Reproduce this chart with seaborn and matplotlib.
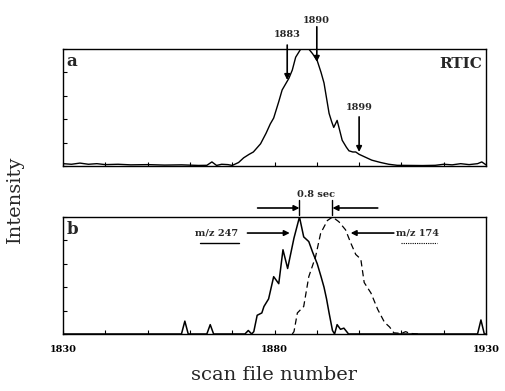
import numpy as np
import pandas as pd
import matplotlib
matplotlib.use("Agg")
import matplotlib.pyplot as plt
import seaborn as sns

# ---------------- data ----------------
rtic_scan = [1830, 1832, 1834, 1836, 1838, 1840, 1843, 1846, 1850, 1854, 1858, 1862, 1864,
             1865.2, 1866.3, 1867.5, 1869, 1870, 1871.5, 1872.7, 1874, 1875, 1876.7, 1878,
             1879, 1879.8, 1881, 1881.8, 1883.4, 1884.2, 1885, 1886.2, 1887, 1888.1, 1889,
             1890.1, 1891, 1891.7, 1892.3, 1892.9, 1893.5, 1894, 1894.8, 1895.3, 1896, 1897,
             1897.6, 1898.5, 1899.2, 1900, 1901.2, 1903, 1905.1, 1907, 1909, 1912, 1915, 1918,
             1920, 1922, 1924, 1926, 1928, 1929, 1930]
rtic_int = [0.02, 0.015, 0.025, 0.015, 0.02, 0.012, 0.015, 0.01, 0.012, 0.008, 0.01, 0.005, 0.006,
            0.035, 0.005, 0.015, 0.012, 0.005, 0.03, 0.07, 0.1, 0.12, 0.19, 0.28,
            0.36, 0.41, 0.55, 0.65, 0.75, 0.82, 0.93, 1.0, 1.0, 1.0, 0.96,
            0.9, 0.8, 0.71, 0.58, 0.45, 0.38, 0.33, 0.39, 0.32, 0.22, 0.16,
            0.13, 0.12, 0.12, 0.1, 0.08, 0.05, 0.03, 0.015, 0.006, 0.005, 0.004, 0.006,
            0.015, 0.01, 0.02, 0.012, 0.02, 0.035, 0.01]

mz247_scan = [1830, 1858, 1858.8, 1859.6, 1864, 1864.8, 1865.6, 1873, 1873.8, 1874.6, 1875.1,
              1875.9, 1877.0, 1877.5, 1878.6, 1879.8, 1881, 1882, 1883.1, 1884.6, 1885.9,
              1886.9, 1888.1, 1889, 1890.1, 1891, 1891.7, 1892.3, 1892.9, 1893.7, 1894.2,
              1894.8, 1895.6, 1896.4, 1897.5, 1928, 1928.8, 1929.6, 1930]
mz247_int = [0, 0, 0.11, 0, 0, 0.08, 0, 0, 0.03, 0, 0.02,
             0.16, 0.18, 0.235, 0.3, 0.49, 0.43, 0.72, 0.56, 0.82, 1.0,
             0.83, 0.79, 0.7, 0.6, 0.49, 0.4, 0.3, 0.18, 0.03, 0,
             0.08, 0.04, 0.05, 0, 0, 0.12, 0, 0]

mz174_scan = [1884.2, 1884.6, 1885.4, 1886.9, 1888.1, 1889.7, 1890.9, 1892.5, 1893.7, 1895.2,
              1896.8, 1898, 1899.2, 1900.4, 1901.2, 1902.8, 1904.4, 1906, 1907.2, 1908.2,
              1910, 1911, 1912, 1914]
mz174_int = [0, 0.02, 0.18, 0.235, 0.49, 0.66, 0.86, 0.97, 1.0, 0.96,
             0.89, 0.78, 0.68, 0.64, 0.44, 0.35, 0.21, 0.1, 0.06, 0.01,
             0.005, 0.02, 0.005, 0]

marked_scans = [1883, 1890, 1899]
mz247_label = "m/z 247"
mz174_label = "m/z 174"
shift_label = "0.8 sec"
x_labels = [1830, 1880, 1930]

# ---------------- style ----------------
sns.set_style("ticks")
plt.rcParams['font.family'] = ['DejaVu Serif']

fig = plt.figure(figsize=(5.05, 3.91), dpi=100)
ax_a = fig.add_axes([0.1248, 0.5754, 0.8376, 0.2992])
ax_b = fig.add_axes([0.1248, 0.1458, 0.8376, 0.2992])

df_a = pd.DataFrame({"scan": rtic_scan, "I": rtic_int})
df_247 = pd.DataFrame({"scan": mz247_scan, "I": mz247_int})
df_174 = pd.DataFrame({"scan": mz174_scan, "I": mz174_int})

sns.lineplot(data=df_a, x="scan", y="I", ax=ax_a, color="black", lw=1.0,
             sort=False, estimator=None)
sns.lineplot(data=df_247, x="scan", y="I", ax=ax_b, color="black", lw=1.1,
             sort=False, estimator=None)
sns.lineplot(data=df_174, x="scan", y="I", ax=ax_b, color="black", lw=0.9,
             linestyle=(0, (5, 3)), sort=False, estimator=None)

for ax in (ax_a, ax_b):
    ax.set_xlim(1830, 1930)
    ax.set_ylim(0, 1.0)
    ax.set_xlabel("")
    ax.set_ylabel("")
    ax.set_yticks(np.arange(0, 1.01, 0.2))
    ax.set_yticklabels([])
    ax.set_xticks(x_labels)
    ax.set_xticks(np.arange(1830, 1931, 10), minor=True)
    ax.tick_params(axis="both", which="both", direction="in", length=3, width=0.8,
                   colors="black")
    for s in ax.spines.values():
        s.set_visible(True)
        s.set_linewidth(1.0)
        s.set_color("black")

ax_a.set_xticklabels([])
ax_b.set_xticklabels([str(v) for v in x_labels], fontsize=7, fontweight="bold")
ax_b.tick_params(axis="x", pad=8)

# panel letters
ax_a.text(0.008, 0.97, "a", transform=ax_a.transAxes, fontsize=12, fontweight="bold",
          va="top", ha="left")
ax_a.text(0.99, 0.93, "RTIC", transform=ax_a.transAxes, fontsize=11, fontweight="bold",
          va="top", ha="right")
ax_b.text(0.008, 0.97, "b", transform=ax_b.transAxes, fontsize=12, fontweight="bold",
          va="top", ha="left")

arrow_kw = dict(arrowstyle="-|>", lw=1.2, color="black", mutation_scale=8,
                shrinkA=0, shrinkB=0)

# panel a annotations
label_y = [1.12, 1.248, 0.50]
tail_y = [1.034, 1.19, 0.42]
tip_y = [0.735, 0.89, 0.12]
label_x = [1883, 1890, 1900]
for s, lx, ly, ty, py in zip(marked_scans, label_x, label_y, tail_y, tip_y):
    ax_a.text(lx, ly, str(s), fontsize=7, fontweight="bold", ha="center", va="center",
              clip_on=False)
    ax_a.annotate("", xy=(lx, py), xytext=(lx, ty), arrowprops=arrow_kw,
                  annotation_clip=False)

# panel b annotations
pk247 = 1885.9
pk174 = 1893.7
ax_b.text((pk247 + pk174) / 2, 1.19, shift_label, fontsize=7, fontweight="bold",
          ha="center", va="center", clip_on=False)
for px in (pk247, pk174):
    ax_b.plot([px, px], [1.017, 1.145], color="black", lw=1.0, clip_on=False)
ax_b.annotate("", xy=(pk247, 1.077), xytext=(1876, 1.077), arrowprops=arrow_kw,
              annotation_clip=False)
ax_b.annotate("", xy=(pk174, 1.077), xytext=(1904.4, 1.077), arrowprops=arrow_kw,
              annotation_clip=False)

ax_b.text(1871.5, 0.863, mz247_label, fontsize=7, fontweight="bold", ha="right",
          va="center")
ax_b.annotate("", xy=(1883.6, 0.863), xytext=(1873.6, 0.863), arrowprops=arrow_kw)
ax_b.plot([1862.5, 1871.5], [0.778, 0.778], color="black", lw=1.0)

ax_b.text(1908.8, 0.863, mz174_label, fontsize=7, fontweight="bold", ha="left",
          va="center")
ax_b.annotate("", xy=(1898, 0.863), xytext=(1908.2, 0.863), arrowprops=arrow_kw)
ax_b.plot([1909.9, 1918.4], [0.778, 0.778], color="black", lw=0.8, linestyle=(0, (1, 1)))

fig.text(0.03, 0.49, "Intensity", rotation=90, fontsize=14, ha="center", va="center")
fig.text(0.5428, 0.04, "scan file number", fontsize=14, ha="center", va="center")

fig.savefig("out.png", dpi=100)
